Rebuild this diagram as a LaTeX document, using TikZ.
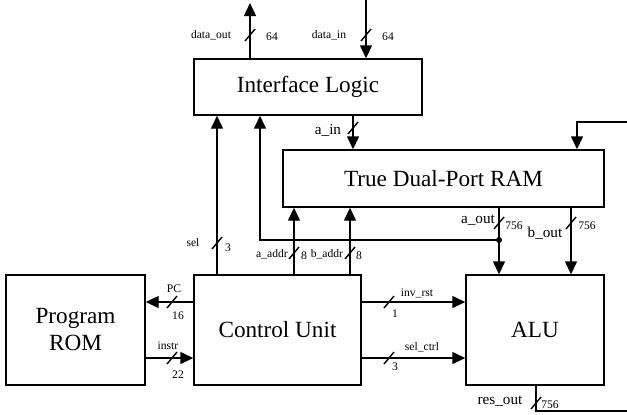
\documentclass[tikz,border=0pt]{standalone}
\usepackage{fontspec}
\setmainfont{Liberation Serif}
\usetikzlibrary{arrows.meta}
\begin{document}
\begin{tikzpicture}[x=0.5pt,y=-0.5pt,
 box/.style={draw, line width=0.7pt, inner sep=0pt, align=center, font=\fontsize{11.6}{13.5}\selectfont},
 wire/.style={line width=0.7pt},
 arr/.style={wire, -{Triangle[width=6pt,length=6.5pt]}},
 tick/.style={line width=0.7pt},
 sm/.style={inner sep=0pt, font=\fontsize{5.8}{6}\selectfont},
 md/.style={inner sep=0pt, font=\fontsize{7.6}{8}\selectfont},
]
\path[use as bounding box, clip] (0,0) rectangle (627,414);

% boxes
\node[box, minimum width=114pt, minimum height=28pt] (il) at (308,87) {Interface Logic};
\node[box, minimum width=160.5pt, minimum height=28.5pt] (ram) at (443.5,178.5) {True Dual-Port RAM};
\node[box, minimum width=69.5pt, minimum height=55pt] (rom) at (75.5,330) {Program\\ROM};
\node[box, minimum width=83.5pt, minimum height=55pt] (cu) at (277.5,330) {Control Unit};
\node[box, minimum width=69pt, minimum height=55pt] (alu) at (535,330) {ALU};

% free ends and routing coordinates
\coordinate (dout) at (250,3);
\coordinate (din) at (366,0);
\coordinate (xain) at (353,0);
\coordinate (xsel) at (217,0);
\coordinate (xfb) at (260,0);
\coordinate (xaa) at (294,0);
\coordinate (xba) at (350,0);
\coordinate (xao) at (499,0);
\coordinate (xbo) at (571,0);
\coordinate (ypc) at (0,302);
\coordinate (yin) at (0,358);
\coordinate (dot) at (499,240);
\coordinate (xres) at (536,0);
\coordinate (r1) at (536,411);
\coordinate (r2) at (640,411);
\coordinate (r3) at (640,122);
\coordinate (r4) at (577,122);

% connectors
\draw[arr] (il.north -| dout) -- (dout);
\draw[arr] (din) -- (il.north -| din);
\draw[arr] (il.south -| xain) -- (ram.north -| xain);
\draw[arr] (cu.north -| xsel) -- (il.south -| xsel);
\draw[arr] (cu.north -| xaa) -- (ram.south -| xaa);
\draw[arr] (cu.north -| xba) -- (ram.south -| xba);
\draw[arr] (ram.south -| xao) -- (alu.north -| xao);
\draw[arr] (ram.south -| xbo) -- (alu.north -| xbo);
\draw[arr] (dot) -- (dot -| xfb) -- (il.south -| xfb);
\fill (dot) circle (1.5pt);
\draw[arr] (cu.west |- ypc) -- (rom.east |- ypc);
\draw[arr] (rom.east |- yin) -- (cu.west |- yin);
\draw[arr] (cu.east |- ypc) -- (alu.west |- ypc);
\draw[arr] (cu.east |- yin) -- (alu.west |- yin);
\draw[arr] (alu.south -| xres) -- (r1) -- (r2) -- (r3) -- (r4) -- (ram.north -| r4);

% bus ticks
\foreach \tx/\ty in {250/35, 366/35, 353/128, 217/243, 294/253, 350/253, 499/223, 571/223, 536/403}
  \draw[tick] (\tx-5,\ty+6) -- (\tx+5,\ty-6);
\foreach \tx/\ty in {172/302, 172/358, 389/302, 389/358}
  \draw[tick] (\tx-5,\ty+6) -- (\tx+5,\ty-6);

% labels
\node[sm] (l1) at (211,35) {data\_out};
\node[sm] (l2) at (272,37) {64};
\node[sm] (l3) at (329,35) {data\_in};
\node[sm] (l4) at (388,37) {64};
\node[md] (l5) at (328,130) {a\_in};
\node[sm] (l6) at (193,243) {sel};
\node[sm] (l7) at (228,248) {3};
\node[sm] (l8) at (272,254) {a\_addr};
\node[sm] (l9) at (304,256) {8};
\node[sm] (l10) at (327,254) {b\_addr};
\node[sm] (l11) at (359,256) {8};
\node[md] (l12) at (478,220) {a\_out};
\node[sm] (l13) at (514,226) {756};
\node[md] (l14) at (545,233) {b\_out};
\node[sm] (l15) at (587,226) {756};
\node[sm] (l16) at (174,289) {PC};
\node[sm] (l17) at (178,316) {16};
\node[sm] (l18) at (168,346) {instr};
\node[sm] (l19) at (178,375) {22};
\node[sm] (l20) at (417,293) {inv\_rst};
\node[sm] (l21) at (395,314) {1};
\node[sm] (l22) at (422,347) {sel\_ctrl};
\node[sm] (l23) at (395,367) {3};
\node[md] (l24) at (500,401) {res\_out};
\node[sm] (l25) at (550,405) {756};
\end{tikzpicture}
\end{document}
